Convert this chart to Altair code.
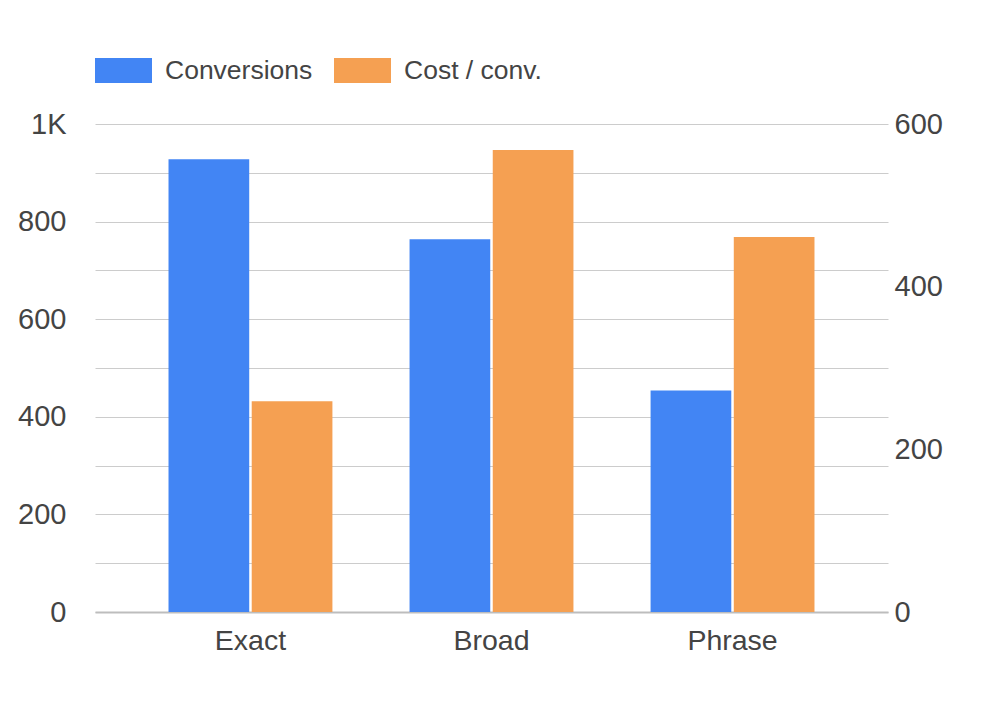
import altair as alt
import pandas as pd

# valores
tipos = ["Exact", "Broad", "Phrase"]
conversoes = [928, 764, 454]
custo_conv = [259, 568, 461]
series = ["Conversions", "Cost / conv."]
cores = ["#4285f4", "#f5a052"]

df = pd.DataFrame({
    "Tipo": tipos * 2,
    "Serie": [series[0]] * 3 + [series[1]] * 3,
    "Valor": conversoes + custo_conv,
})

FONTE = "Liberation Sans"
COR_TEXTO = "#444444"

x = alt.X("Tipo:N", sort=tipos, title=None,
          scale=alt.Scale(paddingInner=0.32, paddingOuter=0.305),
          axis=alt.Axis(labelAngle=0, labelFontSize=28.5, labelColor=COR_TEXTO,
                        labelPadding=14, ticks=False, domainColor="#bdbdbd",
                        domainWidth=2, labelFont=FONTE))
x_off = alt.XOffset("Serie:N", scale=alt.Scale(domain=series, paddingInner=0.03))
cor = alt.Color("Serie:N", title=None,
                scale=alt.Scale(domain=series, range=cores),
                legend=alt.Legend(orient="none", legendX=0, legendY=-82,
                                  direction="horizontal",
                                  symbolType="M-1,-0.44H1V0.44H-1Z",
                                  symbolSize=3249, symbolStrokeWidth=0,
                                  labelFontSize=26.5, labelColor=COR_TEXTO,
                                  labelFont=FONTE, labelOffset=13,
                                  columnPadding=21))

base = alt.Chart(df)

barras_conv = base.transform_filter(alt.datum.Serie == series[0]).mark_bar().encode(
    x=x, xOffset=x_off, color=cor,
    y=alt.Y("Valor:Q", title=None,
            scale=alt.Scale(domain=[0, 1000], nice=False),
            axis=alt.Axis(orient="left", values=list(range(0, 1001, 100)),
                          labelExpr="datum.value % 200 != 0 ? '' : (datum.value >= 1000 ? '1K' : datum.label)",
                          labelFontSize=29, labelColor=COR_TEXTO, labelFont=FONTE,
                          labelPadding=29, ticks=False, domain=False,
                          gridColor="#cccccc", gridWidth=1)),
)

barras_custo = base.transform_filter(alt.datum.Serie == series[1]).mark_bar().encode(
    x=x, xOffset=x_off, color=cor,
    y=alt.Y("Valor:Q", title=None,
            scale=alt.Scale(domain=[0, 600], nice=False),
            axis=alt.Axis(orient="right", values=[0, 200, 400, 600],
                          labelFontSize=29, labelColor=COR_TEXTO, labelFont=FONTE,
                          labelPadding=6, ticks=False, domain=False, grid=False)),
)

chart = alt.layer(barras_conv, barras_custo).resolve_scale(
    y="independent"
).properties(
    width=793,
    height=488,
    autosize=alt.AutoSizeParams(type="none"),
    padding={"left": 87, "top": 116, "right": 100, "bottom": 80},
).configure_view(stroke=None)

chart.save("out.html", embed_options={"renderer": "svg", "actions": False})
